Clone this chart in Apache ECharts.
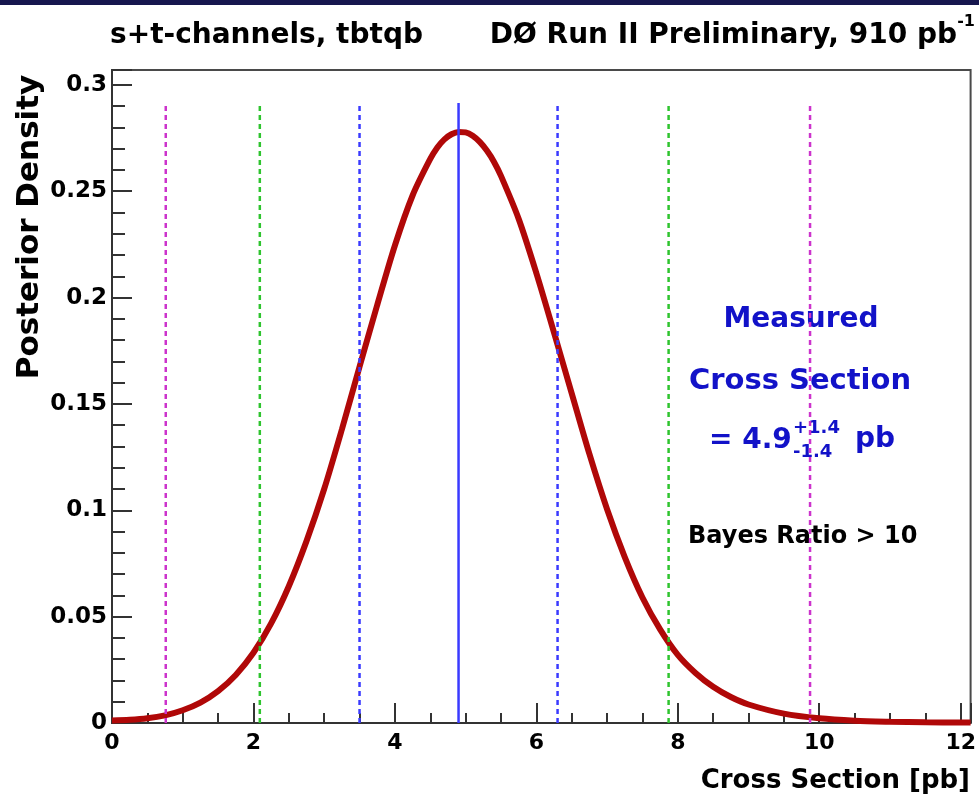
<!DOCTYPE html>
<html>
<head>
<meta charset="utf-8">
<script src="https://cdn.jsdelivr.net/npm/echarts@6/dist/echarts.min.js"></script>
<style>
  html, body { margin: 0; padding: 0; background: #ffffff; }
  #chart { width: 979px; height: 804px; }
</style>
</head>
<body>
<div id="chart"></div>
<script>
// Posterior density of the single-top cross section (s+t channels)
const crossSection = [0, 0.25, 0.5, 0.75, 1, 1.25, 1.5, 1.75, 2, 2.25, 2.5, 2.75, 3, 3.25, 3.5, 3.75,
  4, 4.25, 4.5, 4.6, 4.7, 4.8, 4.9, 5.0, 5.1, 5.2, 5.3, 5.4, 5.5, 5.75, 6, 6.25, 6.5, 6.75, 7, 7.25, 7.5, 7.75,
  8, 8.25, 8.5, 8.75, 9, 9.5, 10, 10.5, 11, 11.5, 12, 12.14];
const posterior = [0.0012, 0.0015, 0.0022, 0.0036, 0.0060, 0.0096, 0.0150, 0.0226, 0.0330, 0.0468,
  0.0643, 0.0855, 0.1100, 0.1380, 0.1675, 0.1965, 0.2245, 0.2480,
  0.2652, 0.2706, 0.2744, 0.2768, 0.2779, 0.2777, 0.2761, 0.2732, 0.2691, 0.2639, 0.2572,
  0.2370, 0.2115, 0.1835, 0.1550, 0.1265, 0.1005, 0.0780,
  0.0590, 0.0440, 0.0320, 0.0235, 0.0170, 0.0122, 0.0087, 0.0044, 0.0022, 0.0011,
  0.0006, 0.0003, 0.0002, 0.0002];

// Measured value and its interval
const measured = 4.9;
const errUp = 1.4;
const errDown = 1.4;
const twoSigmaBounds = [2.09, 7.87];
const threeSigmaBounds = [0.76, 9.87];
const markerTop = 0.2915;

const xTicks = [0, 2, 4, 6, 8, 10, 12];
const yTicks = [0, 0.05, 0.1, 0.15, 0.2, 0.25, 0.3];

const FONT = 'DejaVu Sans';

const curveData = crossSection.map((x, i) => [x, posterior[i]]);

function vline(x, color, dashed, width) {
  return {
    type: 'line',
    data: [[x, 0], [x, markerTop]],
    showSymbol: false,
    silent: true,
    z: 5,
    lineStyle: { color: color, width: width, type: dashed ? [5, 4] : 'solid' }
  };
}

const series = [
  {
    type: 'line',
    data: curveData,
    smooth: 0.3,
    showSymbol: false,
    z: 3,
    lineStyle: { color: '#b00808', width: 6 }
  },
  vline(measured, '#3a3aff', false, 2.5),
  vline(measured - errDown, '#3a3aff', true, 2.5),
  vline(measured + errUp, '#3a3aff', true, 2.5),
  vline(twoSigmaBounds[0], '#2ec42e', true, 2.5),
  vline(twoSigmaBounds[1], '#2ec42e', true, 2.5),
  vline(threeSigmaBounds[0], '#cc33cc', true, 2.5),
  vline(threeSigmaBounds[1], '#cc33cc', true, 2.5)
];

const isTick = (v, list) => list.some(t => Math.abs(t - v) < 1e-6);

const chart = echarts.init(document.getElementById('chart'), null, { renderer: 'canvas' });
chart.setOption({
  animation: false,
  backgroundColor: '#ffffff',
  grid: {
    left: 112, right: 7, top: 70, bottom: 81,
    show: true, borderColor: '#4a4a4a', borderWidth: 2, backgroundColor: 'transparent'
  },
  xAxis: {
    type: 'value', min: 0, max: 12.14, interval: 2,
    axisLine: { lineStyle: { color: '#333333', width: 2 } },
    axisTick: { inside: true, length: 20, lineStyle: { color: '#333333', width: 2 } },
    minorTick: { show: true, splitNumber: 4, length: 10, lineStyle: { color: '#333333', width: 2 } },
    splitLine: { show: false },
    axisLabel: {
      margin: 9, color: '#000000', fontFamily: FONT, fontWeight: 'bold', fontSize: 22,
      formatter: v => isTick(v, xTicks) ? String(Math.round(v)) : ''
    }
  },
  yAxis: {
    type: 'value', min: 0, max: 0.307, interval: 0.05,
    axisLine: { lineStyle: { color: '#333333', width: 2 } },
    axisTick: { inside: true, length: 20, lineStyle: { color: '#333333', width: 2 } },
    minorTick: { show: true, splitNumber: 5, length: 13, lineStyle: { color: '#333333', width: 2 } },
    splitLine: { show: false },
    axisLabel: {
      margin: 5, color: '#000000', fontFamily: FONT, fontWeight: 'bold', fontSize: 23,
      formatter: v => isTick(v, yTicks) ? String(+v.toFixed(2)) : ''
    }
  },
  series: series,
  graphic: [
    { type: 'rect', shape: { x: 0, y: 0, width: 979, height: 5 }, style: { fill: '#16164e' }, silent: true },
    { type: 'text', left: 110, top: 22,
      style: { text: 's+t-channels, tbtqb', fill: '#000', font: 'bold 28px "DejaVu Sans"' } },
    { type: 'text', right: 22, top: 22,
      style: { text: 'DØ Run II Preliminary, 910 pb', fill: '#000', font: 'bold 28px "DejaVu Sans"' } },
    { type: 'text', right: 4, top: 14,
      style: { text: '-1', fill: '#000', font: 'bold 16px "DejaVu Sans"' } },
    { type: 'text', x: 30, y: 227, rotation: Math.PI / 2,
      style: { text: 'Posterior Density', fill: '#000', font: 'bold 31px "DejaVu Sans"',
        align: 'center', verticalAlign: 'middle' } },
    { type: 'text', x: 970, y: 781,
      style: { text: 'Cross Section [pb]', fill: '#000', font: 'bold 26px "DejaVu Sans"',
        align: 'right', verticalAlign: 'middle' } },
    { type: 'text', x: 801, y: 320,
      style: { text: 'Measured', fill: '#1212c8', font: 'bold 28px "DejaVu Sans"',
        align: 'center', verticalAlign: 'middle' } },
    { type: 'text', x: 800, y: 381,
      style: { text: 'Cross Section', fill: '#1212c8', font: 'bold 29px "DejaVu Sans"',
        align: 'center', verticalAlign: 'middle' } },
    { type: 'text', x: 709, y: 441,
      style: { text: '= ' + measured.toFixed(1), fill: '#1212c8', font: 'bold 28px "DejaVu Sans"',
        align: 'left', verticalAlign: 'middle' } },
    { type: 'text', x: 793, y: 428,
      style: { text: '+' + errUp.toFixed(1), fill: '#1212c8', font: 'bold 18px "DejaVu Sans"',
        align: 'left', verticalAlign: 'middle' } },
    { type: 'text', x: 793, y: 452,
      style: { text: '-' + errDown.toFixed(1), fill: '#1212c8', font: 'bold 18px "DejaVu Sans"',
        align: 'left', verticalAlign: 'middle' } },
    { type: 'text', x: 855, y: 440,
      style: { text: 'pb', fill: '#1212c8', font: 'bold 28px "DejaVu Sans"',
        align: 'left', verticalAlign: 'middle' } },
    { type: 'text', x: 688, y: 537,
      style: { text: 'Bayes Ratio > 10', fill: '#000', font: 'bold 24px "DejaVu Sans"',
        align: 'left', verticalAlign: 'middle' } }
  ]
});
</script>
</body>
</html>
